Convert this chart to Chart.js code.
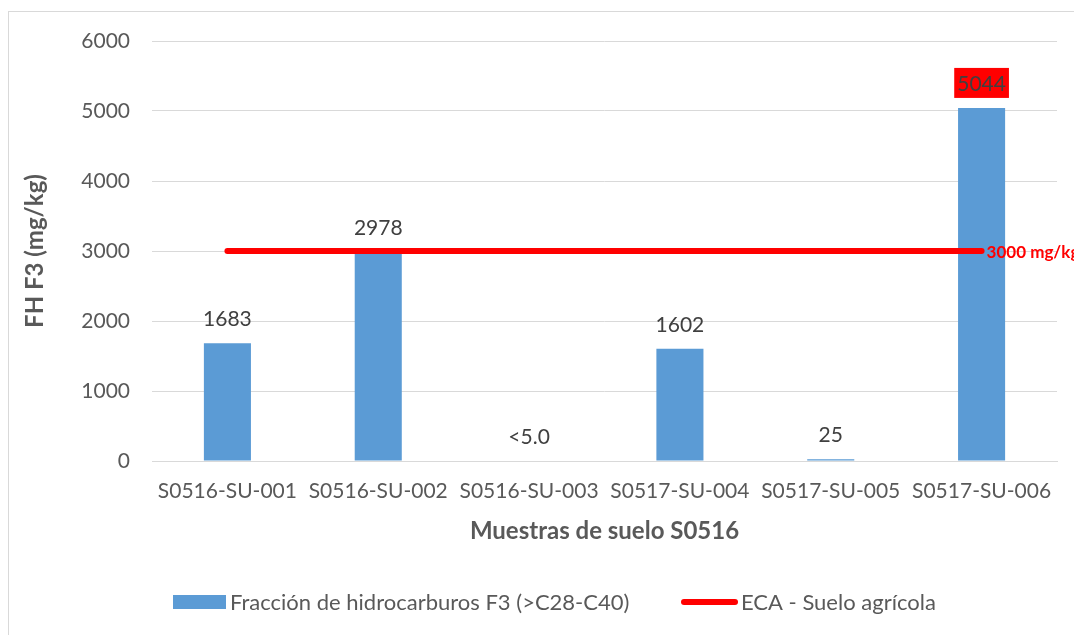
<!DOCTYPE html>
<html>
<head>
<meta charset="utf-8">
<script src="https://cdn.jsdelivr.net/npm/chart.js@4/dist/chart.umd.min.js"></script>
<style>
  html, body { margin: 0; padding: 0; background: #ffffff; }
  #wrap { width: 1074px; height: 635px; }
</style>
</head>
<body>
<div id="wrap"><canvas id="c" width="1074" height="635"></canvas></div>
<script>
const categories = ["S0516-SU-001", "S0516-SU-002", "S0516-SU-003", "S0517-SU-004", "S0517-SU-005", "S0517-SU-006"];
const f3Values = [1683, 2978, 0, 1602, 25, 5044];
const f3Labels = ["1683", "2978", "<5.0", "1602", "25", "5044"];
const ecaValues = [3000, 3000, 3000, 3000, 3000, 3000];
const ecaLabel = "3000 mg/kg";
const yTicks = [0, 1000, 2000, 3000, 4000, 5000, 6000];
const seriesNames = ["Fracción de hidrocarburos F3 (>C28-C40)", "ECA - Suelo agrícola"];
const highlightIndex = 5;

const FONT = "Lato";
const BLUE = "#5B9BD5";
const RED = "#FF0000";
const GRID = "#d9d9d9";
const TXT = "#595959";

const decor = {
  id: "decor",
  beforeDraw(chart) {
    const ctx = chart.ctx;
    ctx.save();
    ctx.fillStyle = "#ffffff";
    ctx.fillRect(0, 0, chart.width, chart.height);
    ctx.strokeStyle = GRID;
    ctx.lineWidth = 1;
    ctx.strokeRect(8.5, 11.5, 1200, 800);
    ctx.restore();
  },
  afterDatasetsDraw(chart) {
    const ctx = chart.ctx;
    const bars = chart.getDatasetMeta(0).data;
    ctx.save();
    ctx.font = "21px " + FONT;
    ctx.textAlign = "center";
    ctx.textBaseline = "middle";
    bars.forEach((b, i) => {
      const txt = f3Labels[i];
      const y = b.y - 25;
      if (i === highlightIndex) {
        const w = ctx.measureText(txt).width;
        ctx.fillStyle = RED;
        ctx.fillRect(b.x - w / 2 - 3, y - 15, w + 6, 30);
      }
      ctx.fillStyle = "#404040";
      ctx.fillText(txt, b.x, y + 1);
    });
    const pts = chart.getDatasetMeta(1).data;
    const last = pts[pts.length - 1];
    ctx.font = "bold 17px " + FONT;
    ctx.textAlign = "left";
    ctx.fillStyle = RED;
    ctx.fillText(ecaLabel, last.x + 5, last.y + 2);

    // legend
    const ly = 602;
    ctx.fillStyle = BLUE;
    ctx.fillRect(173, ly - 7, 53, 14);
    ctx.font = "22px " + FONT;
    ctx.fillStyle = TXT;
    ctx.textAlign = "left";
    ctx.fillText(seriesNames[0], 230, ly + 1);
    ctx.strokeStyle = RED;
    ctx.lineWidth = 6;
    ctx.lineCap = "round";
    ctx.beginPath();
    ctx.moveTo(684, ly);
    ctx.lineTo(735, ly);
    ctx.stroke();
    ctx.fillText(seriesNames[1], 741, ly + 1);
    ctx.restore();
  }
};

new Chart(document.getElementById("c"), {
  type: "bar",
  data: {
    labels: categories,
    datasets: [
      {
        type: "bar",
        label: seriesNames[0],
        data: f3Values,
        backgroundColor: BLUE,
        borderWidth: 0,
        categoryPercentage: 1,
        barPercentage: 0.312,
        order: 2
      },
      {
        type: "line",
        label: seriesNames[1],
        data: ecaValues,
        borderColor: RED,
        borderWidth: 6,
        borderCapStyle: "round",
        pointRadius: 0,
        fill: false,
        order: 1
      }
    ]
  },
  plugins: [decor],
  options: {
    responsive: false,
    animation: false,
    layout: { padding: { left: 0, right: 17, top: 41, bottom: 87 } },
    plugins: {
      legend: { display: false },
      tooltip: { enabled: false }
    },
    scales: {
      x: {
        grid: { display: false, drawTicks: false },
        border: { display: true, color: GRID, width: 1 },
        ticks: { color: TXT, font: { family: FONT, size: 21 }, padding: 18, maxRotation: 0, autoSkip: false },
        title: {
          display: true,
          text: "Muestras de suelo S0516",
          color: TXT,
          font: { family: FONT, size: 24, weight: "bold" },
          padding: { top: 0, bottom: 2 }
        },
        afterFit(s) { s.height = 87; }
      },
      y: {
        min: 0,
        max: 6000,
        afterBuildTicks(s) { s.ticks = yTicks.map(v => ({ value: v })); },
        grid: { color: GRID, lineWidth: 1, drawTicks: false },
        border: { display: false },
        ticks: { color: TXT, font: { family: FONT, size: 21 }, padding: 22, callback: v => String(v) },
        title: {
          display: true,
          text: "FH F3 (mg/kg)",
          color: TXT,
          font: { family: FONT, size: 24, weight: "bold" },
          padding: { top: 21, bottom: 0 }
        },
        afterFit(s) { s.width = 152; }
      }
    }
  }
});
</script>
</body>
</html>
